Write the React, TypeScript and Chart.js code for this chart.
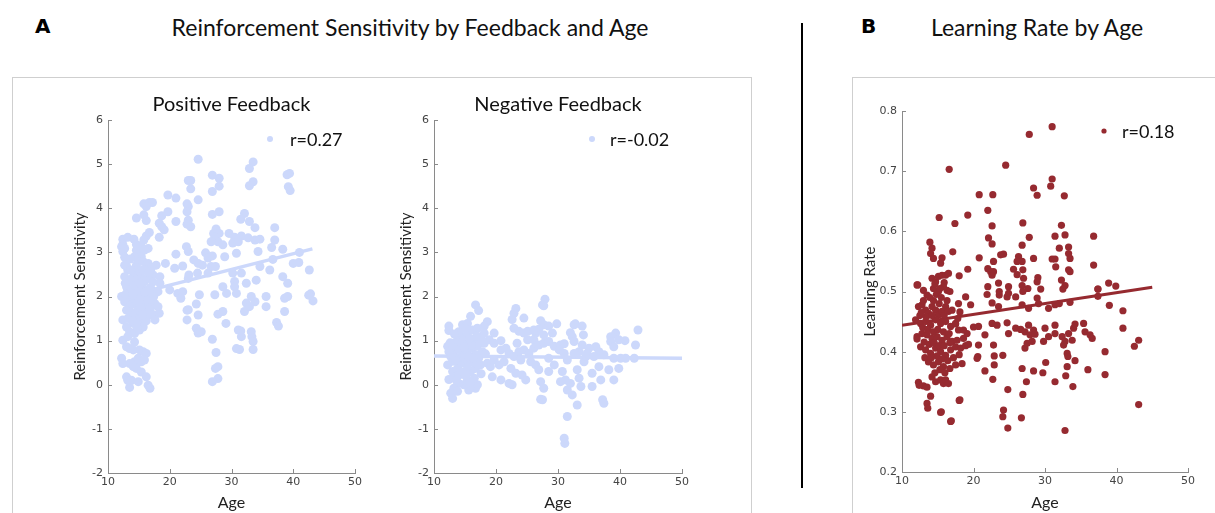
import React, { useEffect, useRef } from "react";
import { Chart, registerables } from "chart.js";

Chart.register(...registerables);

// ---------- data (age, value) ----------
const positivePoints: [number, number][] = [
  [24.6,5.11],[33.5,5.05],[32.9,4.9],[39.4,4.79],[39.0,4.76],[26.9,4.75],[28.0,4.68],[23.0,4.63],[23.4,4.63],[23.4,4.44],
  [28.0,4.5],[26.9,4.38],[33.5,4.6],[32.9,4.51],[39.2,4.49],[39.5,4.40],[19.7,4.30],[21.0,4.23],[24.6,4.19],[15.8,4.1],
  [16.7,4.13],[17.2,4.13],[16.2,4.04],[22.8,4.1],[23.0,4.04],[22.8,3.92],[19.7,3.92],[18.7,3.83],[14.6,3.78],[15.8,3.85],
  [16.2,3.72],[28.0,3.92],[26.9,3.86],[32.1,3.88],[31.5,3.75],[32.9,3.70],[33.8,3.56],[18.3,3.66],[18.7,3.58],[19.1,3.51],
  [21.0,3.70],[23.0,3.73],[23.4,3.58],[22.8,3.64],[37.0,3.56],[27.5,3.53],[27.1,3.43],[28.0,3.43],[27.3,3.34],[16.7,3.45],
  [16.2,3.37],[15.8,3.28],[18.3,3.34],[12.4,3.30],[13.2,3.34],[12.4,3.18],[14.6,3.18],[16.5,3.09],[29.6,3.43],[30.5,3.34],
  [31.6,3.37],[32.7,3.33],[33.8,3.28],[34.6,3.30],[37.0,3.28],[36.5,3.11],[38.3,3.07],[27.8,3.24],[26.7,3.24],[28.6,3.17],
  [30.2,3.21],[31.1,3.24],[34.3,3.02],[30.8,2.98],[41.0,3.00],[12.4,3.02],[12.7,2.89],[14.9,3.02],[15.4,2.90],[22.7,3.13],
  [23.0,3.02],[21.0,2.96],[25.8,2.99],[26.2,2.87],[26.9,2.92],[28.9,2.90],[36.7,2.84],[40.0,2.75],[40.9,2.77],[42.6,2.60],
  [13.0,2.69],[14.6,2.71],[16.4,2.71],[17.8,2.71],[19.3,2.75],[20.8,2.64],[22.1,2.69],[23.9,2.83],[24.6,2.75],[25.3,2.71],
  [26.7,2.68],[27.4,2.68],[34.6,2.68],[36.2,2.60],[23.1,2.49],[24.5,2.53],[26.2,2.53],[23.0,2.41],[17.3,2.49],[18.4,2.45],
  [15.4,2.45],[14.1,2.45],[30.2,2.53],[31.6,2.53],[30.5,2.34],[32.4,2.30],[34.0,2.37],[38.3,2.45],[39.1,2.30],[13.0,2.22],
  [15.4,2.22],[18.4,2.30],[18.1,2.11],[20.0,2.15],[21.3,2.07],[22.1,2.11],[21.8,1.96],[24.8,2.04],[27.3,2.04],[28.6,2.22],
  [29.2,2.07],[30.5,2.22],[30.8,2.07],[32.4,1.85],[33.8,1.88],[33.2,2.00],[35.6,2.00],[38.6,1.96],[39.1,2.00],[42.8,2.06],
  [43.2,1.90],[42.5,2.03],[24.3,1.83],[23.0,1.70],[24.6,1.58],[28.6,1.66],[27.8,1.60],[29.1,1.39],[32.1,1.66],[32.9,1.77],
  [35.6,1.77],[38.6,1.66],[37.3,1.41],[37.6,1.33],[31.1,1.24],[31.5,1.22],[31.6,1.09],[33.2,1.20],[33.3,1.09],[33.5,0.98],
  [33.5,0.80],[22.8,1.69],[22.8,1.47],[24.3,1.28],[24.6,1.17],[25.1,1.20],[26.9,1.03],[27.5,0.73],[27.8,0.41],[27.4,0.37],
  [27.8,0.14],[26.9,0.07],[30.8,0.82],[31.3,0.80],[17.6,1.58],[18.3,1.62],
  [12.2,2.0],[12.7,1.88],[13.2,1.92],[13.8,1.96],[14.3,2.0],[14.9,2.03],[15.4,2.0],[15.9,1.96],[14.1,1.84],[14.6,1.81],
  [15.1,1.84],[15.7,1.77],[16.2,1.84],[16.5,1.92],[13.5,1.77],[13.0,1.69],[13.8,1.62],[14.6,1.65],[15.4,1.69],[15.9,1.62],
  [16.8,1.69],[17.0,1.77],[17.6,1.84],[18.1,1.77],[12.4,1.47],[13.2,1.5],[14.1,1.54],[14.9,1.47],[15.7,1.39],[17.0,1.58],
  [17.6,1.47],[13.0,1.31],[13.5,1.2],[14.3,1.16],[15.1,1.24],[14.1,1.39],[12.4,1.01],[13.2,1.09],[14.3,0.97],[15.7,1.31],
  [14.1,0.79],[15.1,0.79],[15.7,0.75],[16.2,0.71],[12.2,0.6],[12.4,0.48],[13.5,0.48],[14.3,0.52],[14.9,0.6],[15.4,0.52],
  [15.9,0.56],[14.1,0.41],[14.6,0.37],[15.4,0.29],[13.0,0.18],[13.2,0.1],[13.8,0.1],[13.5,-0.06],[14.9,0.07],[16.2,0.18],
  [16.5,-0.01],[16.8,-0.08],[13.0,0.86],[13.5,0.82],
  [12.2,3.13],[12.7,3.09],[14.6,3.05],[15.4,3.13],[15.9,3.05],[14.3,2.9],[14.9,2.79],[15.7,2.79],[16.5,2.75],[13.2,2.6],
  [14.3,2.56],[15.1,2.56],[15.9,2.6],[17.0,2.64],[14.6,2.37],[15.9,2.33],[16.5,2.41],[17.3,2.33],[13.2,2.15],[14.1,2.18],
  [14.9,2.15],[16.2,2.15],[17.0,2.07],[12.7,2.45],[12.7,2.71],
  [12.9,2.05],[13.4,2.35],[13.7,2.6],[14.4,2.25],[15.2,2.3],[15.6,2.6],[16.0,2.1],[16.9,2.2],[13.6,2.85],[14.2,3.3],
  [15.0,1.9],[15.3,1.75],[13.9,1.45],[14.7,1.3],[16.2,1.45],[12.8,2.3],[14.0,2.05],[16.6,2.55],[17.4,2.0],[15.6,1.58],
];
const positiveFitAge = [12.2, 43.1];
const positiveFitValue = [1.98, 3.08];

const negativePoints: [number, number][] = [
  [27.9,1.94],[27.5,1.81],[27.7,1.79],[16.7,1.81],[17.2,1.68],[23.2,1.73],[22.9,1.62],[22.6,1.48],[24.5,1.51],[15.9,1.55],
  [12.4,1.33],[12.4,1.23],[14.6,1.36],[15.4,1.39],[18.6,1.43],[18.1,1.33],[27.2,1.45],[27.7,1.36],[26.9,1.26],[29.8,1.38],
  [28.5,1.33],[32.8,1.38],[33.9,1.33],[32.6,1.36],[32.0,1.18],[34.1,1.13],[39.3,1.17],[38.5,1.09],[42.9,1.24],[22.9,1.28],
  [23.7,1.21],[24.5,1.17],[25.1,1.21],[19.7,1.17],[20.8,1.0],[29.1,1.17],[26.4,1.17],[26.1,1.02],[40.8,1.0],[42.5,0.9],
  [30.4,0.9],[31.0,0.93],[32.3,1.09],[32.6,0.98],[36.1,0.86],[36.6,0.75],[38.5,0.98],[39.0,0.86],[39.8,1.02],
  [12.2,0.87],[13.0,0.94],[13.8,1.02],[14.6,1.09],[15.4,1.17],[16.2,1.24],[17.0,1.28],[17.5,1.09],[16.5,1.02],[15.4,0.94],
  [14.3,0.87],[13.2,0.75],[12.7,0.64],[12.2,0.45],[13.0,0.53],[13.8,0.6],[14.6,0.68],[15.4,0.75],[16.2,0.83],[17.0,0.87],
  [18.1,0.94],[18.9,1.02],[19.7,0.94],[17.8,0.75],[16.7,0.68],[15.9,0.56],[14.8,0.49],[13.8,0.37],[13.0,0.3],[12.4,0.12],
  [13.2,0.18],[14.0,0.22],[14.8,0.26],[15.9,0.3],[16.7,0.37],[17.5,0.45],[18.6,0.49],[15.4,0.11],[16.2,-0.04],[16.7,-0.08],
  [15.6,-0.12],[14.8,0.0],[14.0,0.03],[13.2,-0.08],[12.7,-0.19],[13.0,-0.31],[17.0,0.0],[15.4,0.41],[14.3,0.53],[13.5,0.83],
  [15.1,1.28],[18.1,1.17],[19.1,0.41],[16.5,0.15],
  [20.8,0.79],[21.6,0.83],[22.1,0.71],[22.9,0.64],[23.7,0.75],[24.5,0.79],[25.3,0.71],[26.1,0.83],[26.9,0.9],[27.7,0.94],
  [28.5,0.98],[29.4,0.87],[30.2,0.79],[31.0,0.71],[31.5,0.56],[19.7,0.56],[20.5,0.45],[21.3,0.52],[22.4,0.37],[23.2,0.26],
  [24.2,0.22],[24.8,0.11],[22.6,0.0],[22.1,0.03],[20.8,0.11],[19.4,0.18],[25.6,0.52],[26.4,0.45],[26.9,0.34],[27.2,0.07],
  [27.7,-0.08],[27.5,-0.34],[27.2,-0.33],[28.5,0.3],[29.4,0.45],[30.7,0.3],[30.4,0.07],[31.2,0.11],[31.5,-0.12],[32.3,-0.23],
  [32.0,0.03],[33.1,0.34],[33.4,0.15],[33.1,-0.46],[33.7,-0.04],[34.2,0.52],[34.5,0.64],[34.7,0.71],[35.5,0.26],[35.5,-0.04],
  [36.6,0.41],[36.9,0.11],[37.2,-0.34],[37.4,-0.42],[38.2,0.34],[39.0,0.11],[39.8,0.37],[33.4,0.75],[32.6,0.71],[33.9,0.9],
  [35.0,0.83],[35.8,0.64],[37.4,0.68],[40.1,0.6],[40.9,0.6],[42.3,0.6],[39.0,0.6],[31.5,-0.72],[31.0,-1.21],[31.1,-1.33],
  [28.5,0.6],[24.0,0.56],[25.1,1.02],[23.4,0.94],[27.7,1.13],[26.1,1.24],
  [12.9,0.7],[13.5,0.55],[14.1,0.8],[14.5,0.95],[15.0,0.6],[15.6,0.65],[16.0,0.9],[16.5,0.5],[17.2,0.6],[14.3,0.3],
  [15.1,0.2],[15.8,0.05],[13.6,0.1],[12.6,0.95],[14.0,1.2],[16.9,1.1],[17.6,0.25],[18.3,0.7],[13.3,1.15],[15.8,1.05],
  [14.8,0.85],[16.3,0.6],[12.4,0.75],[13.8,-0.15],[17.8,1.0],
];
const negativeFitAge = [10, 50];
const negativeFitValue = [0.65, 0.6];

const learningPoints: [number, number][] = [
  [31.0,0.774],[27.8,0.761],[16.6,0.703],[24.5,0.710],[31.0,0.687],[30.8,0.675],[28.4,0.672],[28.9,0.660],[32.7,0.659],[20.8,0.661],
  [22.7,0.661],[22.0,0.635],[19.2,0.627],[15.2,0.623],[17.4,0.613],[22.6,0.609],[26.9,0.614],[32.3,0.61],[32.8,0.594],[31.4,0.592],
  [36.8,0.592],[27.8,0.59],[26.8,0.577],[22.1,0.589],[22.6,0.579],[13.9,0.582],[14.2,0.572],[14.0,0.563],[14.4,0.555],[33.3,0.574],
  [33.3,0.563],[33.5,0.555],[32.0,0.572],[17.1,0.566],[15.6,0.556],[15.4,0.547],[20.8,0.556],[24.2,0.562],[23.8,0.561],[22.8,0.55],
  [26.3,0.558],[26.8,0.55],[26.1,0.55],[28.4,0.555],[31.0,0.554],[31.4,0.554],[31.5,0.541],[33.3,0.536],[33.5,0.533],[19.2,0.537],
  [18.0,0.526],[22.0,0.538],[22.4,0.533],[22.6,0.527],[22.8,0.533],[25.6,0.537],[26.1,0.528],[26.9,0.536],[27.0,0.522],[29.0,0.523],
  [28.9,0.516],[32.3,0.519],[32.8,0.51],[36.8,0.544],[37.4,0.504],[12.1,0.511],[14.2,0.522],[14.7,0.516],[15.1,0.525],[15.6,0.527],
  [16.1,0.527],[16.5,0.53],[14.4,0.505],[15.1,0.5],[15.8,0.508],[16.3,0.502],[13.0,0.502],[13.5,0.494],[22.0,0.508],[23.5,0.514],
  [24.9,0.508],[26.8,0.51],[27.6,0.505],[23.6,0.494],[24.7,0.491],[25.9,0.491],[18.9,0.491],[28.9,0.489],
  [12.3,0.475],[12.8,0.478],[13.3,0.469],[13.7,0.464],[14.2,0.475],[14.7,0.469],[15.1,0.461],[15.6,0.467],[16.1,0.475],[16.5,0.467],
  [17.0,0.469],[11.9,0.453],[12.6,0.447],[13.3,0.45],[14.0,0.444],[14.7,0.453],[15.4,0.447],[16.1,0.45],[16.8,0.442],[17.5,0.447],
  [17.9,0.436],[12.1,0.425],[12.8,0.43],[13.5,0.428],[14.2,0.422],[14.9,0.425],[15.6,0.419],[16.3,0.425],[17.0,0.417],[17.7,0.419],
  [18.6,0.422],[19.1,0.43],[12.6,0.408],[13.3,0.403],[14.0,0.397],[14.7,0.406],[15.4,0.4],[16.1,0.394],[16.8,0.403],[17.5,0.408],
  [18.2,0.406],[13.7,0.383],[14.4,0.378],[15.1,0.383],[15.8,0.375],[17.5,0.378],[18.4,0.38],[12.3,0.349],[13.0,0.343],[13.5,0.341],
  [14.2,0.358],[14.7,0.35],[15.4,0.353],[15.8,0.347],[16.1,0.353],[16.5,0.347],[14.0,0.326],[13.5,0.314],[13.6,0.306],[15.4,0.299],
  [16.8,0.284],[18.0,0.319],[17.5,0.446],[18.6,0.436],[20.0,0.441],[20.7,0.442],[21.6,0.428],[20.7,0.411],[20.6,0.392],[20.5,0.389],
  [22.6,0.447],[23.3,0.444],[22.8,0.411],[24.9,0.43],[24.7,0.448],[25.9,0.439],[26.6,0.437],[27.2,0.433],[27.9,0.428],[27.7,0.444],
  [28.4,0.436],[28.6,0.429],[27.2,0.406],[27.5,0.414],[28.2,0.417],[29.8,0.417],[30.5,0.425],[31.4,0.43],[30.0,0.439],[31.4,0.444],
  [32.4,0.425],[33.3,0.43],[34.0,0.439],[34.2,0.446],[35.4,0.447],[35.6,0.433],[36.3,0.428],[36.6,0.422],[32.8,0.417],[33.8,0.419],
  [32.6,0.411],[33.1,0.397],[33.2,0.392],[34.2,0.385],[30.1,0.382],[29.7,0.365],[28.4,0.368],[26.8,0.372],[27.4,0.35],[26.9,0.329],
  [26.7,0.29],[22.9,0.393],[24.1,0.394],[22.9,0.378],[21.6,0.368],[22.7,0.354],[24.8,0.337],[24.2,0.303],[24.1,0.292],[24.8,0.273],
  [31.4,0.35],[33.1,0.375],[32.9,0.36],[33.9,0.342],[36.0,0.37],[32.8,0.269],
  [17.9,0.48],[19.6,0.478],[22.6,0.481],[23.5,0.475],[26.8,0.478],[27.7,0.472],[29.1,0.48],[30.5,0.472],[31.4,0.478],
  [38.4,0.40],[38.4,0.362],[40.9,0.468],[40.9,0.439],[42.5,0.409],[43.1,0.419],[43.1,0.312],[37.4,0.504],[37.4,0.492],[39.0,0.477],
  [38.9,0.514],[39.9,0.509],[21.9,0.495],[23.6,0.5],[24.9,0.497],[26.9,0.5],[29.4,0.504],[32.5,0.504],[32.0,0.48],[33.5,0.482],
  [12.2,0.511],[12.1,0.421],[12.4,0.344],[18.1,0.466],[18.1,0.32],[15.5,0.3],[16.9,0.285],
  [12.5,0.46],[13.0,0.485],[13.4,0.458],[13.9,0.49],[14.4,0.485],[14.8,0.495],[15.2,0.48],[15.5,0.49],[15.9,0.46],[16.3,0.485],
  [16.7,0.5],[12.9,0.44],[13.6,0.437],[14.4,0.433],[15.0,0.437],[15.8,0.433],[16.6,0.43],[13.1,0.416],[13.8,0.412],[14.5,0.415],
  [15.2,0.41],[15.9,0.41],[16.7,0.415],[13.2,0.39],[14.1,0.39],[14.9,0.393],[15.6,0.388],[16.4,0.385],[17.2,0.39],[14.6,0.365],
  [15.3,0.37],[16.0,0.365],[16.7,0.372],[12.7,0.465],[14.2,0.46],[15.3,0.505],[14.6,0.513],[15.9,0.515],[17.8,0.455],[18.9,0.41],
  [19.3,0.412],[18.0,0.395],
];
const learningFitAge = [10, 45];
const learningFitValue = [0.444, 0.507];

// ---------- styling ----------
const BLUE = "rgb(204,216,251)";
const RED = "rgb(150,42,48)";
const AXIS = "#8a8a8a";
const TICK_FONT = { family: "DejaVu Sans", size: 11 };
const LABEL_FONT = "Lato";

const inwardTicks = {
  id: "inwardTicks",
  afterDraw(chart: any) {
    const { ctx, chartArea } = chart;
    const xs = chart.scales.x;
    const ys = chart.scales.y;
    ctx.save();
    ctx.strokeStyle = AXIS;
    ctx.lineWidth = 1;
    xs.ticks.forEach((t: any) => {
      const px = Math.round(xs.getPixelForValue(t.value)) + 0.5;
      ctx.beginPath();
      ctx.moveTo(px, chartArea.bottom);
      ctx.lineTo(px, chartArea.bottom - 4);
      ctx.stroke();
    });
    ys.ticks.forEach((t: any) => {
      const py = Math.round(ys.getPixelForValue(t.value)) + 0.5;
      ctx.beginPath();
      ctx.moveTo(chartArea.left, py);
      ctx.lineTo(chartArea.left + 4, py);
      ctx.stroke();
    });
    ctx.restore();
  },
};

const cornerLegend = {
  id: "cornerLegend",
  afterDatasetsDraw(chart: any, _args: any, opts: any) {
    const ds = chart.data.datasets[0];
    const { ctx, chartArea } = chart;
    const mx = chartArea.left + opts.dx;
    const my = chartArea.top + opts.dy;
    ctx.save();
    ctx.fillStyle = ds.backgroundColor;
    ctx.beginPath();
    ctx.arc(mx, my, opts.r, 0, Math.PI * 2);
    ctx.fill();
    ctx.fillStyle = "#111";
    ctx.font = `18px ${LABEL_FONT}`;
    ctx.textBaseline = "middle";
    ctx.textAlign = "left";
    ctx.fillText(ds.label, mx + opts.gap, my + 1);
    ctx.restore();
  },
};

type PanelCfg = {
  points: [number, number][];
  fitX: number[];
  fitY: number[];
  label: string;
  color: string;
  radius: number;
  lineWidth: number;
  title?: string;
  yTitle: string;
  yMin: number;
  yMax: number;
  yStep: number;
  padRight: number;
  padTop: number;
  yTitlePad: number;
  xHeight: number;
  legend: { dx: number; dy: number; r: number; gap: number };
};

function Panel({ cfg, left, top, width, height }: { cfg: PanelCfg; left: number; top: number; width: number; height: number }) {
  const ref = useRef<HTMLCanvasElement | null>(null);
  useEffect(() => {
    if (!ref.current) return;
    const chart = new Chart(ref.current, {
      type: "scatter",
      data: {
        datasets: [
          {
            label: cfg.label,
            data: cfg.points.map(([x, y]) => ({ x, y })),
            backgroundColor: cfg.color,
            borderWidth: 0,
            pointRadius: cfg.radius,
            pointHoverRadius: cfg.radius,
          },
          {
            label: "fit",
            data: cfg.fitX.map((x, i) => ({ x, y: cfg.fitY[i] })),
            showLine: true,
            borderColor: cfg.color,
            borderWidth: cfg.lineWidth,
            pointRadius: 0,
            borderCapStyle: "butt",
          },
        ],
      },
      options: {
        responsive: false,
        animation: false,
        events: [],
        layout: { padding: { top: cfg.padTop, right: cfg.padRight, left: 0, bottom: 0 } },
        plugins: {
          legend: { display: false },
          tooltip: { enabled: false },
          title: cfg.title
            ? {
                display: true,
                text: cfg.title,
                fullSize: false,
                color: "#111",
                font: { family: LABEL_FONT, size: 20, weight: "normal" },
                padding: { top: 8, bottom: 3 },
              }
            : { display: false },
          cornerLegend: cfg.legend,
        } as any,
        scales: {
          x: {
            type: "linear",
            min: 10,
            max: 50,
            ticks: { stepSize: 10, color: "#444", font: TICK_FONT, padding: 3, maxRotation: 0 },
            grid: { display: false, drawTicks: false },
            border: { display: true, color: AXIS, width: 1 },
            title: { display: true, text: "Age", color: "#222", font: { family: LABEL_FONT, size: 16 }, padding: { top: 0, bottom: 1 } },
            afterFit: (s: any) => {
              s.height = cfg.xHeight;
            },
          },
          y: {
            type: "linear",
            min: cfg.yMin,
            max: cfg.yMax,
            ticks: { stepSize: cfg.yStep, color: "#444", font: TICK_FONT, padding: 5 },
            grid: { display: false, drawTicks: false },
            border: { display: true, color: AXIS, width: 1 },
            title: { display: true, text: cfg.yTitle, color: "#222", font: { family: LABEL_FONT, size: 15 }, padding: { top: cfg.yTitlePad, bottom: 0 } },
            afterFit: (s: any) => {
              s.width = 68;
            },
          },
        },
      },
      plugins: [inwardTicks, cornerLegend],
    } as any);
    return () => chart.destroy();
  }, []);
  return (
    <canvas
      ref={ref}
      width={width}
      height={height}
      style={{ position: "absolute", left, top, width, height, display: "block" }}
    />
  );
}

const positiveCfg: PanelCfg = {
  points: positivePoints,
  fitX: positiveFitAge,
  fitY: positiveFitValue,
  label: "r=0.27",
  color: BLUE,
  radius: 4.5,
  lineWidth: 3.5,
  title: "Positive Feedback",
  yTitle: "Reinforcement Sensitivity",
  yMin: -2,
  yMax: 6,
  yStep: 1,
  padRight: 15,
  padTop: 0,
  yTitlePad: 31,
  xHeight: 40,
  legend: { dx: 162, dy: 19, r: 3, gap: 20 },
};

const negativeCfg: PanelCfg = {
  points: negativePoints,
  fitX: negativeFitAge,
  fitY: negativeFitValue,
  label: "r=-0.02",
  color: BLUE,
  radius: 4.5,
  lineWidth: 3.5,
  title: "Negative Feedback",
  yTitle: "Reinforcement Sensitivity",
  yMin: -2,
  yMax: 6,
  yStep: 1,
  padRight: 14,
  padTop: 0,
  yTitlePad: 31,
  xHeight: 40,
  legend: { dx: 158, dy: 19, r: 3, gap: 18 },
};

const learningCfg: PanelCfg = {
  points: learningPoints,
  fitX: learningFitAge,
  fitY: learningFitValue,
  label: "r=0.18",
  color: RED,
  radius: 3.6,
  lineWidth: 3,
  yTitle: "Learning Rate",
  yMin: 0.2,
  yMax: 0.8,
  yStep: 0.1,
  padRight: 27,
  padTop: 26,
  yTitlePad: 27,
  xHeight: 41,
  legend: { dx: 202, dy: 20, r: 2.6, gap: 18 },
};

export default function App() {
  return (
    <div
      style={{
        position: "fixed",
        left: 0,
        top: 0,
        width: 1215,
        height: 513,
        overflow: "hidden",
        background: "#fff",
      }}
    >
      {/* panel A frame */}
      <div style={{ position: "absolute", left: 12, top: 77, width: 740, height: 500, border: "1px solid #cfcfcf", boxSizing: "border-box" }} />
      {/* panel B frame */}
      <div style={{ position: "absolute", left: 852, top: 77, width: 420, height: 500, border: "1px solid #cfcfcf", boxSizing: "border-box" }} />
      {/* divider */}
      <div style={{ position: "absolute", left: 801, top: 23, width: 2, height: 465, background: "#000" }} />

      <div style={{ position: "absolute", left: 35, top: 14, fontFamily: "DejaVu Sans", fontWeight: 900, fontSize: 20, color: "#000" }}>A</div>
      <div style={{ position: "absolute", left: 861, top: 14, fontFamily: "DejaVu Sans", fontWeight: 900, fontSize: 20, color: "#000" }}>B</div>
      <div style={{ position: "absolute", left: 110, width: 600, top: 13, textAlign: "center", fontFamily: LABEL_FONT, fontSize: 23, color: "#111", whiteSpace: "nowrap" }}>
        Reinforcement Sensitivity by Feedback and Age
      </div>
      <div style={{ position: "absolute", left: 887, width: 300, top: 13, textAlign: "center", fontFamily: LABEL_FONT, fontSize: 23, color: "#111", whiteSpace: "nowrap" }}>
        Learning Rate by Age
      </div>

      <Panel cfg={positiveCfg} left={40} top={85} width={330} height={428} />
      <Panel cfg={negativeCfg} left={366} top={85} width={330} height={428} />
      <Panel cfg={learningCfg} left={834} top={85} width={381} height={428} />
    </div>
  );
}
